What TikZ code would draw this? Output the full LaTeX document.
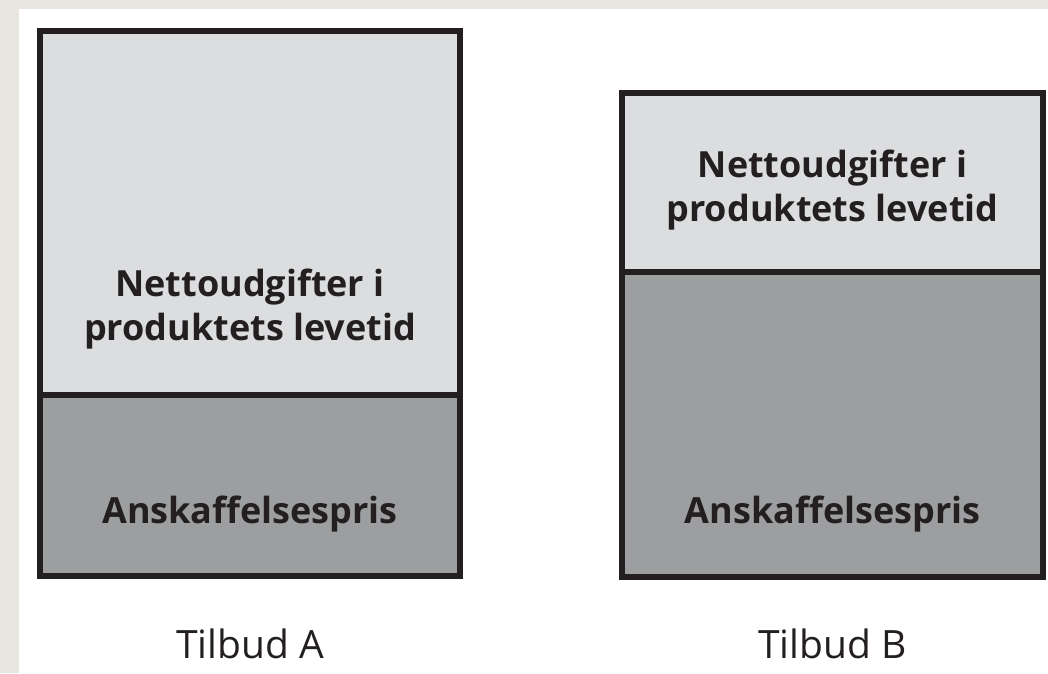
\documentclass[tikz,border=0pt]{standalone}
\usepackage{fontspec}
\setmainfont{Open Sans}
\definecolor{bgbeige}{HTML}{E9E6E0}
\definecolor{lightfill}{HTML}{DCDDDF}
\definecolor{darkfill}{HTML}{9D9EA0}
\definecolor{edge}{HTML}{231F20}
\begin{document}
\begin{tikzpicture}[x=1pt,y=-1pt,
  box/.style={draw=edge, line width=6pt, inner sep=0pt, outer sep=0pt},
  lightbox/.style={box, fill=lightfill},
  darkbox/.style={box, fill=darkfill},
  boldlabel/.style={text=edge, font=\fontsize{36}{44}\selectfont\bfseries, align=center, anchor=base, inner sep=0pt},
  caption/.style={text=edge, font=\fontsize{39}{46}\selectfont, anchor=base, inner sep=0pt}]
\useasboundingbox (0,0) rectangle (1048,673);
\fill[bgbeige] (0,0) rectangle (1048,673);
\fill[white] (19,9) rectangle (1048,673);
% Tilbud A
\node[lightbox, minimum width=420pt, minimum height=363.5pt] (aTop) at (250,212.75) {};
\node[darkbox, minimum width=420pt, minimum height=181.5pt] (aBot) at (250,485.25) {};
% Tilbud B
\node[lightbox, minimum width=421pt, minimum height=179pt] (bTop) at (832.5,182.5) {};
\node[darkbox, minimum width=421pt, minimum height=305pt] (bBot) at (832.5,424.5) {};
% labels (base anchor = baseline of last line)
\node[boldlabel] (aNet) at (250,340) {Nettoudgifter i\\produktets levetid};
\node[boldlabel] (aAns) at (250,523) {Anskaffelsespris};
\node[boldlabel] (bNet) at (832.5,221) {Nettoudgifter i\\produktets levetid};
\node[boldlabel] (bAns) at (832.5,523) {Anskaffelsespris};
\node[caption] (aCap) at (250,658) {Tilbud A};
\node[caption] (bCap) at (832.5,658) {Tilbud B};
\end{tikzpicture}
\end{document}
